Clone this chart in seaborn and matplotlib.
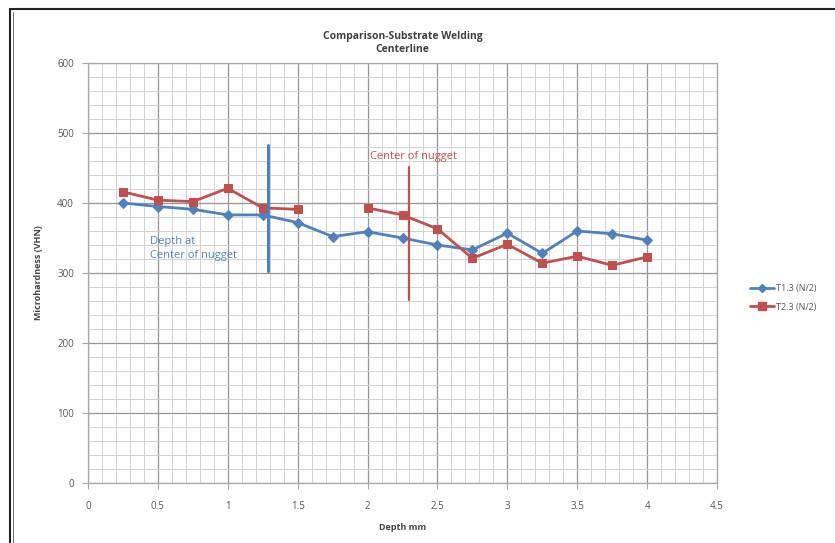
import numpy as np
import pandas as pd
import matplotlib
matplotlib.use("Agg")
import matplotlib.pyplot as plt
from matplotlib.ticker import MultipleLocator
from matplotlib.lines import Line2D
import seaborn as sns

# depth positions (mm)
depth = [0.25, 0.5, 0.75, 1.0, 1.25, 1.5, 1.75, 2.0, 2.25, 2.5, 2.75, 3.0, 3.25, 3.5, 3.75, 4.0]
t13 = [400, 395, 391, 383, 383, 372, 352, 359, 350, 340, 333, 357, 328, 360, 356, 347]
t23 = [416, 404, 402, 421, 393, 391, np.nan, 393, 383, 363, 321, 341, 314, 324, 311, 323]

# marker lines for nugget centre
blue_mark_x = 1.29
blue_mark_y = [303, 483]
red_mark_x = 2.30
red_mark_y = [261, 451]

blue = "#4F81BD"
red = "#C0504D"

sns.set_style("white")
plt.rcParams['font.family'] = ['Open Sans', 'DejaVu Sans']

rows = []
for name, vals in [("T1.3 (N/2)", t13), ("T2.3 (N/2)", t23)]:
    seg = 0
    for d, v in zip(depth, vals):
        if np.isnan(v):
            seg += 1
            continue
        rows.append({"depth": d, "hv": v, "series": name, "seg": seg})
df = pd.DataFrame(rows)

fig = plt.figure(figsize=(8.35, 5.43), dpi=100)
ax = fig.add_axes([88 / 835, 60 / 543, (717 - 88) / 835, (483 - 63) / 543])

d1 = df[df.series == "T1.3 (N/2)"]
d2 = df[df.series == "T2.3 (N/2)"]
sns.lineplot(data=d1, x="depth", y="hv", units="seg", estimator=None, color=blue,
             marker="D", markersize=5, markeredgecolor=blue, linewidth=2.0, ax=ax, zorder=3)
sns.lineplot(data=d2, x="depth", y="hv", units="seg", estimator=None, color=red,
             marker="s", markersize=6.2, markeredgecolor=red, linewidth=2.0, ax=ax, zorder=3)

ax.plot([blue_mark_x, blue_mark_x], blue_mark_y, color=blue, linewidth=2.2, zorder=4)
ax.plot([red_mark_x, red_mark_x], red_mark_y, color=red, linewidth=1.6, zorder=4)

ax.text(0.44, 335, "Depth at\nCenter of nugget", color=blue, fontsize=8, va="center",
        ha="left", linespacing=1.3)
ax.text(2.02, 466, "Center of nugget", color=red, fontsize=8, va="center", ha="left")

ax.set_xlim(0, 4.5)
ax.set_ylim(0, 600)
ax.xaxis.set_major_locator(MultipleLocator(0.5))
ax.xaxis.set_minor_locator(MultipleLocator(0.1))
ax.yaxis.set_major_locator(MultipleLocator(100))
ax.yaxis.set_minor_locator(MultipleLocator(20))
ax.set_xticks(np.arange(0, 4.51, 0.5))
ax.set_xticklabels(["0", "0.5", "1", "1.5", "2", "2.5", "3", "3.5", "4", "4.5"])
ax.grid(which="major", color="#959595", linewidth=0.9)
ax.grid(which="minor", color="#d2d2d2", linewidth=0.7)
ax.set_axisbelow(True)
for s in ax.spines.values():
    s.set_color("#a8a8a8")
    s.set_linewidth(0.9)
ax.tick_params(axis="both", which="major", direction="out", length=4, color="#a8a8a8",
               labelsize=7, labelcolor="#555555", bottom=True, left=True)
ax.tick_params(axis="x", which="major", pad=9)
ax.tick_params(axis="y", which="major", pad=6)
ax.tick_params(which="minor", length=0)

ax.set_xlabel("Depth mm", fontsize=6.5, fontweight="bold", color="#444444", labelpad=8)
ax.set_ylabel("Microhardness (VHN)", fontsize=6.5, fontweight="bold", color="#444444", labelpad=10)
ax.set_title("Comparison-Substrate Welding\nCenterline", fontsize=7.5, fontweight="bold",
             color="#404040", pad=8, linespacing=1.2)

handles = [Line2D([], [], color=blue, marker="D", markersize=4, linewidth=2),
           Line2D([], [], color=red, marker="s", markersize=5.5, linewidth=2)]
fig.legend(handles, ["T1.3 (N/2)", "T2.3 (N/2)"], loc="center left",
           bbox_to_anchor=(742 / 835, 1 - 298 / 543), frameon=False, fontsize=6.5,
           labelcolor="#555555", handlelength=2.6, handletextpad=0.3, labelspacing=1.0)

# screenshot frame
fig.add_artist(Line2D([10 / 835, 1], [1 - 9 / 543, 1 - 9 / 543], color="#222222", linewidth=1.5))
fig.add_artist(Line2D([10 / 835, 10 / 835], [0, 1 - 9 / 543], color="#222222", linewidth=1.5))
fig.add_artist(Line2D([13 / 835, 13 / 835], [0, 1 - 12 / 543], color="#555555", linewidth=0.6))

fig.savefig("out.png", dpi=100)
